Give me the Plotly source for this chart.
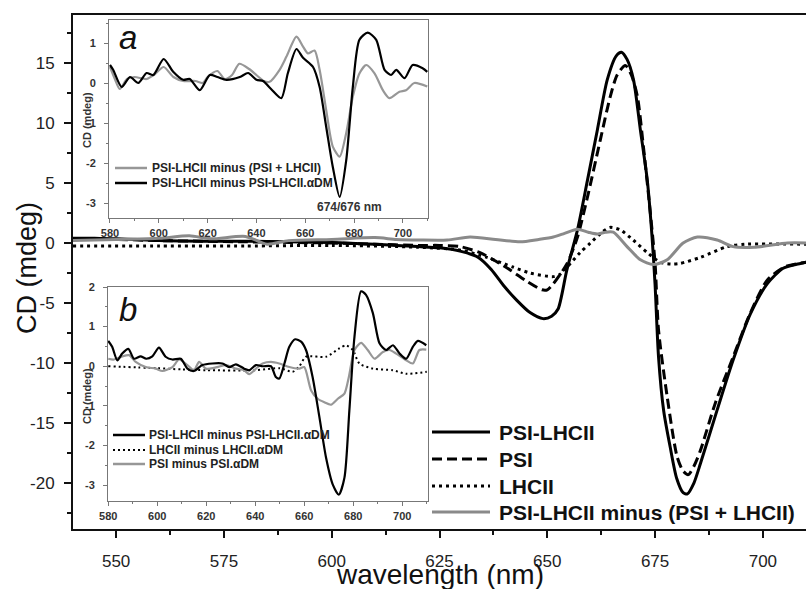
import plotly.graph_objects as go

# ---------------- main panel data ----------------
wl_psi_lhcii = [540, 545, 550, 555, 560, 570, 580, 590, 600, 610, 615, 620, 625, 630, 634, 637, 640, 643, 646, 649,
                651, 652.5, 654.5, 657, 659.3, 661.6, 663.9, 666, 667.2, 668.5, 670, 671.6, 673.2, 674.3, 675,
                675.8, 677, 678.5, 680, 681.5, 682.5, 684, 685.5, 689.4, 693.1, 697.1, 701, 704.7, 708.7, 710]
cd_psi_lhcii = [0.4, 0.4, 0.35, 0.3, 0.2, 0.15, 0.15, 0.1, 0.05, -0.1, -0.2, -0.3, -0.4, -0.7, -1.2, -2.2, -3.6, -4.8, -5.8, -6.3,
                -6.1, -5.5, -2.3, 1.1, 5.2, 9.4, 13.6, 15.6, 15.9, 15.3, 13.6, 9.4, 5.2, 0.5, -3.5,
                -9.5, -14.0, -17.0, -19.6, -20.8, -20.9, -20.0, -18.4, -13.9, -9.75, -5.9, -3.4, -2.1, -1.7, -1.6]

wl_psi = [540, 550, 560, 570, 580, 590, 600, 610, 620, 625, 629.8, 634.4, 638, 641.4, 645.3, 648.8, 650, 651.4, 654.6,
          657, 659.3, 662.3, 664.6, 666.2, 668.1, 669.5, 670.9, 672.3, 673.9, 675, 675.8, 677.8, 680.1, 681.5, 682.7,
          684, 685.5, 689, 693.1, 697, 701, 705, 710]
cd_psi = [0.3, 0.3, 0.2, 0.15, 0.1, 0.05, 0.0, -0.1, -0.2, -0.2, -0.3, -0.8, -1.5, -2.25, -3.2, -3.9, -3.9, -3.4, -1.7,
          0.5, 3.8, 8.6, 12.2, 14.0, 14.8, 14.0, 12.2, 8.0, 2.5, -1.7, -7.25, -12.8, -17.8, -19.0, -19.3,
          -18.6, -17.3, -13.3, -9.5, -5.9, -3.1, -2.0, -1.6]

wl_lhcii = [540, 560, 580, 600, 620, 630, 636, 642, 646, 651.4, 653, 654.6, 657.6, 660, 662.7, 664.5, 666.9, 669.9,
            673.2, 676.2, 679, 680.8, 685.5, 691.7, 696, 710]
cd_lhcii = [-0.25, -0.25, -0.25, -0.2, -0.35, -0.6, -1.2, -2.0, -2.5, -2.8, -2.6, -2.0, -0.8, 0.0, 0.9, 1.3, 1.1, 0.25,
            -0.8, -1.6, -1.75, -1.7, -1.2, -0.3, -0.1, -0.1]

wl_diff = [540, 550, 560, 567, 572, 580, 585, 590, 600, 610, 615, 620.5, 626.8, 632.1, 638, 643.7, 648, 651.4, 654,
           657, 659.5, 661.6, 663.5, 665.3, 668.5, 671.6, 674.6, 677.8, 681.5, 684.8, 689.4, 693.1, 698, 705.7, 710]
cd_diff = [0.2, 0.3, 0.4, 0.6, 0.35, 0.55, -0.1, 0.2, 0.3, 0.45, 0.3, 0.25, 0.25, 0.5, 0.3, 0.1, 0.3, 0.5, 0.8,
           1.15, 0.9, 0.75, 0.9, 0.9, -0.3, -1.4, -1.8, -1.4, 0.0, 0.5, 0.25, -0.3, -0.35, 0.0, 0.0]

main_xticks = [550, 575, 600, 625, 650, 675, 700]
main_yticks = [-20, -15, -10, -5, 0, 5, 10, 15]
main_names = ["PSI-LHCII", "PSI", "LHCII", "PSI-LHCII minus (PSI + LHCII)"]

# ---------------- inset a data ----------------
wl_a_black = [580, 581.3, 584.8, 588.2, 591.6, 595, 597.7, 602, 605.9, 610, 612.7, 616.8, 620.9, 624, 627.7, 633.2,
              636.6, 640, 642.7, 646, 650.2, 652.9, 656.4, 659.1, 663.2, 665.9, 668.6, 671.3, 674.1, 676.8, 679.5,
              682.2, 685.6, 689.1, 692.5, 695.2, 697.3, 700.7, 704, 708.1, 710]
cd_a_black = [0.45, 0.33, -0.1, 0.15, 0.0, 0.25, 0.2, 0.6, 0.28, 0.08, 0.1, -0.18, 0.2, 0.15, 0.08, 0.15,
              0.25, 0.08, 0.05, -0.15, -0.38, 0.25, 0.85, 0.63, 0.4, -0.1, -1.1, -2.1, -2.85, -1.93, -0.1,
              1.08, 1.26, 1.08, 0.33, 0.2, 0.33, 0.12, 0.45, 0.37, 0.28]
wl_a_gray = [580, 582, 584, 587, 590, 595, 598, 602, 606, 610, 615, 618, 620, 624, 627, 630, 633, 637, 640, 643,
             645.4, 649.5, 652.3, 656.4, 659.1, 661.1, 663.8, 665.9, 668.6, 671.3, 674.1, 676.8, 679.5, 682.2, 685,
             688.4, 691.8, 694.5, 698.6, 701.3, 704.7, 710]
cd_a_gray = [0.4, 0.1, -0.15, 0.1, 0.15, 0.1, 0.2, 0.4, 0.15, 0.05, 0.05, 0.0, 0.15, 0.3, 0.1, 0.2, 0.48, 0.35, 0.2, 0.05,
             0.03, 0.33, 0.66, 1.16, 0.91, 0.74, 0.81, 0.33, -0.68, -1.59, -1.84, -1.25, -0.34, 0.24, 0.45,
             0.24, -0.18, -0.38, -0.22, -0.18, 0.0, -0.09]
inset_a_names = ["PSI-LHCII minus (PSI + LHCII)", "PSI-LHCII minus PSI-LHCII.\u03b1DM"]

# ---------------- inset b data ----------------
wl_b_black = [580, 581.6, 583.7, 585.7, 588.2, 590.5, 593.2, 595.5, 598, 600.7, 603.4, 606.2, 609.6, 612.3, 615,
              618.4, 622.5, 626.6, 629.4, 632.1, 635.5, 637.5, 640.3, 643, 646.4, 648.4, 649.8, 651.9, 653.9, 656.3,
              658.7, 660.7, 663.4, 666.2, 668.9, 671.6, 674.1, 676.4, 678.4, 680.5, 683.2, 685.2, 688, 690.7, 693.4,
              696.2, 698.9, 701.6, 704.3, 706.4, 709.8]
cd_b_black = [0.64, 0.49, 0.15, 0.32, 0.44, 0.19, 0.25, 0.19, 0.25, 0.47, 0.24, 0.17, 0.19, -0.06, -0.12,
              0.03, 0.07, 0.07, -0.02, 0.05, -0.06, -0.1, 0.03, 0.0, 0.0, -0.27, -0.31, 0.07, 0.49, 0.68,
              0.62, 0.41, -0.27, -1.29, -2.31, -2.98, -3.24, -2.81, -1.12, 0.75, 1.89, 1.8, 1.34, 0.58, 0.41,
              0.53, 0.32, 0.19, 0.49, 0.64, 0.53]
wl_b_gray = [580, 582.3, 585.7, 588.5, 591.2, 595.3, 599.4, 602.1, 606.2, 608.9, 612.3, 615, 617.1, 619.8, 623.9,
             628, 632.1, 635.5, 637.5, 640.3, 643, 646.4, 649.8, 653.9, 658, 660, 662.8, 665.5, 668.2, 670.9, 673.7,
             676.4, 678.2, 680.5, 683.2, 685.9, 688.7, 692.1, 694.8, 697.5, 701.6, 704.3, 707, 709.8]
cd_b_gray = [0.19, 0.17, 0.25, 0.28, 0.11, -0.02, -0.06, -0.12, -0.02, 0.17, 0.03, -0.1, 0.11, -0.06, -0.03,
             0.03, -0.06, -0.1, -0.2, -0.06, 0.07, 0.11, 0.07, -0.02, -0.06, -0.02, -0.61, -0.82, -0.91, -0.97, -0.82,
             -0.69, -0.27, 0.41, 0.59, 0.41, 0.19, 0.36, 0.41, 0.32, 0.15, 0.07, 0.41, 0.42]
wl_b_dot = [580, 600, 610, 620, 640, 650, 655.3, 658, 660.7, 668.9, 674.3, 677, 679.8, 682.5, 688, 696, 701.6, 710]
cd_b_dot = [0.0, -0.05, -0.08, -0.1, -0.1, -0.05, -0.14, 0.0, 0.24, 0.24, 0.45, 0.53, 0.41, 0.07, -0.06, -0.1, -0.19, -0.14]
inset_b_names = ["PSI-LHCII minus PSI-LHCII.\u03b1DM", "LHCII minus LHCII.\u03b1DM", "PSI minus PSI.\u03b1DM"]

inset_xticks = [580, 600, 620, 640, 660, 680, 700]

# ---------------- geometry helpers ----------------
W, H = 806, 589
FONT = "Liberation Sans"


def px(x):
    return x / W


def py(y):
    return 1 - y / H


GRAY_MAIN = "#8a8a8a"
GRAY_IN = "#979797"

fig = go.Figure()

# main traces
main_styles = [
    dict(color="black", width=3),
    dict(color="black", width=3, dash="10px,5px"),
    dict(color="black", width=3, dash="3px,4px"),
    dict(color=GRAY_MAIN, width=3),
]
for (xs, ys), name, st in zip([(wl_psi_lhcii, cd_psi_lhcii), (wl_psi, cd_psi), (wl_lhcii, cd_lhcii),
                               (wl_diff, cd_diff)], main_names, main_styles):
    fig.add_trace(go.Scatter(x=xs, y=ys, name=name, mode="lines",
                             line=dict(shape="spline", smoothing=0.7, **st),
                             xaxis="x", yaxis="y", showlegend=False))

# inset a traces
for xs, ys, name, col in [(wl_a_gray, cd_a_gray, inset_a_names[0], GRAY_IN),
                          (wl_a_black, cd_a_black, inset_a_names[1], "black")]:
    fig.add_trace(go.Scatter(x=xs, y=ys, name=name, mode="lines",
                             line=dict(color=col, width=2.2, shape="spline", smoothing=0.7),
                             xaxis="x2", yaxis="y2", showlegend=False))

# inset b traces
for xs, ys, name, st in [(wl_b_dot, cd_b_dot, inset_b_names[1], dict(color="black", width=2, dash="2px,3px")),
                         (wl_b_gray, cd_b_gray, inset_b_names[2], dict(color=GRAY_IN, width=2.2)),
                         (wl_b_black, cd_b_black, inset_b_names[0], dict(color="black", width=2.2))]:
    fig.add_trace(go.Scatter(x=xs, y=ys, name=name, mode="lines",
                             line=dict(shape="spline", smoothing=0.7, **st),
                             xaxis="x3", yaxis="y3", showlegend=False))

main_tickfont = dict(family=FONT, size=17, color="#222")
inset_tickfont = dict(family=FONT, size=11, color="#333", weight="bold")

axis_common = dict(showgrid=False, zeroline=False, showline=True, ticks="outside", automargin=False)

fig.update_layout(
    template="none",
    width=W, height=H,
    margin=dict(l=0, r=0, t=0, b=0, pad=0, autoexpand=False),
    paper_bgcolor="white", plot_bgcolor="white",
    showlegend=False,
    font=dict(family=FONT),
    xaxis=dict(domain=[px(73), 1], range=[540, 710], anchor="y", linecolor="#111", linewidth=2, mirror=True,
               ticklen=7, tickwidth=1.5, tickcolor="#111", tickvals=main_xticks,
               ticktext=[str(v) for v in main_xticks], tickfont=main_tickfont, ticklabelstandoff=9,
               minor=dict(ticks="outside", ticklen=4, tickwidth=1.5, tickcolor="#111", dtick=12.5, tick0=537.5),
               **axis_common),
    yaxis=dict(domain=[py(529), py(15)], range=[-23.83, 19.0], anchor="x", linecolor="#111", linewidth=2,
               ticklen=7, tickwidth=1.5, tickcolor="#111", tickvals=main_yticks,
               ticktext=[str(v) for v in main_yticks], tickfont=main_tickfont, ticklabelstandoff=6,
               minor=dict(ticks="outside", ticklen=4, tickwidth=1.5, tickcolor="#111", dtick=2.5, tick0=0),
               **axis_common),
    xaxis2=dict(domain=[px(109), px(428)], range=[579.6, 710.3], anchor="y2", linecolor="#777", linewidth=1,
                mirror=True, ticklen=4, tickcolor="#777", tickvals=inset_xticks,
                ticktext=[str(v) for v in inset_xticks], tickfont=inset_tickfont, ticklabelstandoff=1,
                minor=dict(ticks="outside", ticklen=2, tickcolor="#777", dtick=10, tick0=580),
                **axis_common),
    yaxis2=dict(domain=[py(218), py(20)], range=[-3.375, 1.575], anchor="x2", linecolor="#777", linewidth=1,
                mirror=True, ticklen=4, tickcolor="#777", tickvals=[-3, -2, -1, 0, 1],
                ticktext=["-3", "-2", "-1", "0", "1"], tickfont=inset_tickfont, ticklabelstandoff=6,
                minor=dict(ticks="outside", ticklen=2, tickcolor="#777", dtick=0.5, tick0=0),
                **axis_common),
    xaxis3=dict(domain=[px(108), px(428)], range=[579.9, 710.5], anchor="y3", linecolor="#777", linewidth=1,
                mirror=True, ticklen=4, tickcolor="#777", tickvals=inset_xticks,
                ticktext=[str(v) for v in inset_xticks], tickfont=inset_tickfont, ticklabelstandoff=1,
                minor=dict(ticks="outside", ticklen=2, tickcolor="#777", dtick=10, tick0=580),
                **axis_common),
    yaxis3=dict(domain=[py(501), py(287)], range=[-3.4, 2.0], anchor="x3", linecolor="#777", linewidth=1,
                mirror=True, ticklen=4, tickcolor="#777", tickvals=[-3, -2, -1, 0, 1, 2],
                ticktext=["-3", "-2", "-1", "0", "1", "2"], tickfont=inset_tickfont, ticklabelstandoff=6,
                minor=dict(ticks="outside", ticklen=2, tickcolor="#777", dtick=0.5, tick0=0),
                **axis_common),
)

annotations = []
shapes = []


def text(x, y, s, size, bold=False, italic=False, color="#111", xanchor="center", angle=0):
    annotations.append(dict(x=px(x), y=py(y), xref="paper", yref="paper", text=s, showarrow=False,
                            xanchor=xanchor, yanchor="middle", textangle=angle,
                            font=dict(family=FONT, size=size, color=color,
                                      weight="bold" if bold else "normal",
                                      style="italic" if italic else "normal")))


def sample(x0, x1, y, **line):
    shapes.append(dict(type="line", xref="paper", yref="paper", x0=px(x0), x1=px(x1), y0=py(y), y1=py(y),
                       line=line))


# axis titles
text(440, 574, "wavelength (nm)", 28, color="#111")
text(27, 268, "CD (mdeg)", 27, color="#111", angle=-90)
text(87, 120, "CD (mdeg)", 11, bold=True, color="#333", angle=-90)
text(87, 396, "CD (mdeg)", 11, bold=True, color="#333", angle=-90)

# panel letters
text(128, 37, "a", 33, italic=True)
text(128, 309, "b", 33, italic=True)
text(349, 207, "674/676 nm", 12, bold=True, color="#333")

# main legend
main_leg_y = [432, 459, 486, 512]
for yy, name, st in zip(main_leg_y, main_names, main_styles):
    sample(432, 490, yy, **st)
    text(497, yy, name, 21, bold=True, xanchor="left")

# inset a legend
for yy, name, col in zip([168, 183], inset_a_names, [GRAY_IN, "black"]):
    sample(115, 147, yy, color=col, width=2.5)
    text(150, yy, name, 12, bold=True, color="#222", xanchor="left")

# inset b legend
b_styles = [dict(color="black", width=2.5), dict(color="black", width=2, dash="2px,3px"),
            dict(color=GRAY_IN, width=2.5)]
for yy, name, st in zip([435, 450, 464], inset_b_names, b_styles):
    sample(113, 145, yy, **st)
    text(147, yy, name, 12, bold=True, color="#222", xanchor="left")

fig.update_layout(annotations=annotations, shapes=shapes)

fig.write_html("out.html", config={"displayModeBar": False},
               post_script="document.body.style.margin='0';document.body.style.overflow='hidden';")
